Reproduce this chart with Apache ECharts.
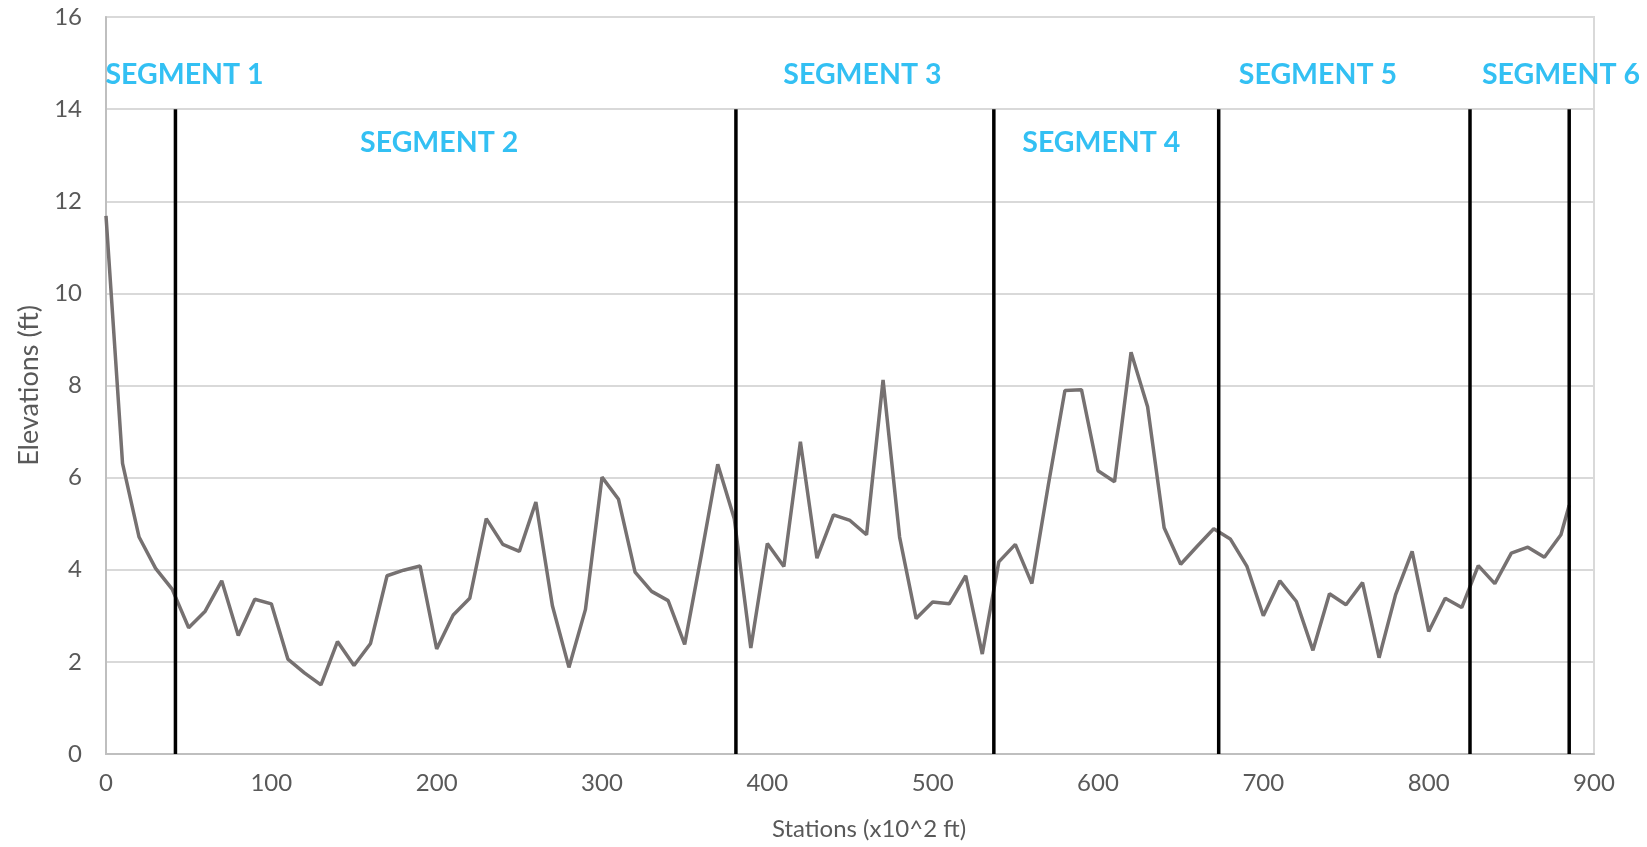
<!DOCTYPE html>
<html>
<head>
<meta charset="utf-8">
<title>Elevations by station</title>
<script src="https://cdn.jsdelivr.net/npm/echarts@6/dist/echarts.min.js"></script>
<style>
  html, body { margin: 0; padding: 0; background: #fff; }
  #chart { width: 1647px; height: 847px; }
</style>
</head>
<body>
<div id="chart"></div>
<script>
// stations (x10^2 ft) and elevations (ft)
var stations = [0, 10, 20, 30, 40, 50, 60, 70, 80, 90, 100, 110, 120, 130, 140, 150, 160, 170, 180, 190,
  200, 210, 220, 230, 240, 250, 260, 270, 280, 290, 300, 310, 320, 330, 340, 350, 360, 370, 380, 390,
  400, 410, 420, 430, 440, 450, 460, 470, 480, 490, 500, 510, 520, 530, 540, 550, 560, 570, 580, 590,
  600, 610, 620, 630, 640, 650, 660, 670, 680, 690, 700, 710, 720, 730, 740, 750, 760, 770, 780, 790,
  800, 810, 820, 830, 840, 850, 860, 870, 880, 885];
var elevations = [11.68, 6.31, 4.71, 4.03, 3.58, 2.74, 3.10, 3.76, 2.57, 3.36, 3.26, 2.06, 1.76, 1.50, 2.44, 1.92, 2.40, 3.87, 3.99, 4.08,
  2.28, 3.02, 3.38, 5.11, 4.55, 4.40, 5.47, 3.22, 1.88, 3.14, 6.01, 5.53, 3.95, 3.53, 3.33, 2.38, 4.30, 6.29, 5.11, 2.30,
  4.57, 4.07, 6.78, 4.25, 5.19, 5.07, 4.76, 8.12, 4.71, 2.94, 3.30, 3.26, 3.87, 2.17, 4.17, 4.55, 3.70, 5.85, 7.89, 7.91,
  6.15, 5.91, 8.72, 7.54, 4.91, 4.12, 4.51, 4.89, 4.67, 4.08, 3.00, 3.76, 3.31, 2.25, 3.48, 3.24, 3.72, 2.09, 3.46, 4.40,
  2.66, 3.38, 3.18, 4.09, 3.70, 4.36, 4.49, 4.27, 4.76, 5.40];

// segment boundaries (station) and the height they are drawn to
var segBounds = [42, 381, 537, 673, 825, 885];
var segTop = 14;

// segment labels
var segNames = ["SEGMENT 1", "SEGMENT 2", "SEGMENT 3", "SEGMENT 4", "SEGMENT 5", "SEGMENT 6"];
var segLabelX = [47.5, 201.5, 457.5, 602, 733, 880];
var segLabelY = [14.74, 13.26, 14.74, 13.26, 14.74, 14.74];

var font = "Lato, 'Open Sans', sans-serif";

var profile = stations.map(function (s, i) { return [s, elevations[i]]; });

var series = [{
  name: "Elevation",
  type: "line",
  data: profile,
  showSymbol: false,
  lineStyle: { color: "#767171", width: 3.5 },
  z: 3
}];

segBounds.forEach(function (b) {
  series.push({
    type: "line",
    data: [[b, 0], [b, segTop]],
    showSymbol: false,
    lineStyle: { color: "#000", width: 3.5 },
    z: 4
  });
});

series.push({
  type: "scatter",
  data: segNames.map(function (n, i) { return [segLabelX[i], segLabelY[i], n]; }),
  symbolSize: 1,
  itemStyle: { color: "rgba(0,0,0,0)" },
  label: {
    show: true,
    position: "inside",
    formatter: function (p) { return p.data[2]; },
    color: "#00B0F0",
    fontFamily: font,
    fontWeight: "bold",
    fontSize: 28.5
  },
  z: 5
});

var chart = echarts.init(document.getElementById("chart"));
chart.setOption({
  animation: false,
  grid: {
    left: 106, right: 53, top: 17, bottom: 93,
    show: true, borderColor: "#D9D9D9", borderWidth: 2
  },
  xAxis: {
    type: "value",
    min: 0, max: 900, interval: 100,
    name: "Stations (x10^2 ft)",
    nameLocation: "middle",
    nameGap: 63,
    nameTextStyle: { color: "#595959", fontSize: 24, fontFamily: font, padding: [0, 0, 0, 38] },
    axisLine: { show: true, lineStyle: { color: "#BFBFBF", width: 2 } },
    axisTick: { show: false },
    axisLabel: { color: "#595959", fontSize: 24, fontFamily: font, margin: 17 },
    splitLine: { show: false }
  },
  yAxis: {
    type: "value",
    min: 0, max: 16, interval: 2,
    name: "Elevations (ft)",
    nameLocation: "middle",
    nameGap: 62,
    nameTextStyle: { color: "#595959", fontSize: 27, fontFamily: font },
    axisLine: { show: true, lineStyle: { color: "#BFBFBF", width: 2 } },
    axisTick: { show: false },
    axisLabel: { color: "#595959", fontSize: 24, fontFamily: font, margin: 24 },
    splitLine: { show: true, lineStyle: { color: "#D9D9D9", width: 2 } }
  },
  series: series
});
</script>
</body>
</html>
